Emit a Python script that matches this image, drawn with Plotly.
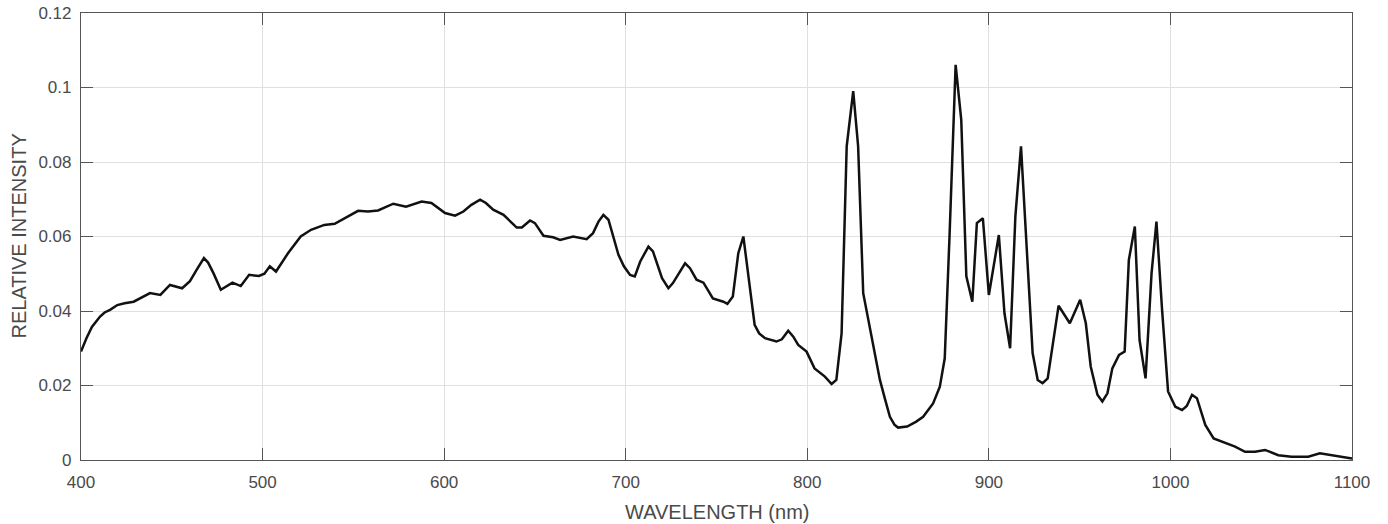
import plotly.graph_objects as go

# Emission spectrum, relative intensity vs wavelength (nm)
wavelength = [
    400, 403, 406, 410.5, 413, 416, 420, 424, 429, 432.7, 438, 443.7, 449, 455.7, 460,
    464, 467.7, 470, 473, 477, 483.4, 488, 492.6, 498, 501, 504, 507.4, 514, 521, 526.7,
    534, 539.7, 545, 552.6, 558, 563.6, 572, 579, 587.6, 593, 600.5, 606, 610.6, 615,
    619.8, 623, 627, 632.7, 640, 642.8, 647.3, 650, 654.7, 660, 663.9, 671, 678.5, 682,
    685, 687.7, 690.5, 693, 696, 699, 702.4, 705, 708, 712.5, 715, 720, 723.5, 726,
    732.7, 735.4, 739, 742.8, 748, 753.8, 756, 759, 762, 764.8, 767.5, 771, 773.5,
    776.7, 783, 786, 789.5, 792.3, 795, 799.6, 804, 809.7, 813.4, 816, 818.9, 821.7,
    825.3, 828, 830.8, 835.4, 840, 843, 845.5, 848, 850, 855, 860, 863.8, 869.3, 873,
    875.7, 878.4, 881.7, 884.8, 887.6, 890.9, 893.4, 896.7, 900, 905.5, 908.6, 911.7,
    914.6, 917.7, 924.1, 926.9, 929.6, 932.4, 938.4, 944.6, 950.3, 953.4, 956.1, 959.8,
    962.5, 965.3, 968, 971.7, 974.8, 977.1, 980.4, 983, 986.3, 989.6, 992.3, 995.4,
    998.7, 1002.7, 1006.4, 1009, 1011.9, 1014.6, 1019.2, 1023.8, 1030.2, 1035.6,
    1041.1, 1046.6, 1052.1, 1059.4, 1066.7, 1075.9, 1082.3, 1088.7, 1098.7, 1100,
]
intensity = [
    0.0291, 0.0327, 0.0357, 0.0385, 0.0396, 0.0403, 0.0416, 0.0421, 0.0425, 0.0434,
    0.0448, 0.0443, 0.0470, 0.0461, 0.0480, 0.0513, 0.0542, 0.0530, 0.0501, 0.0457,
    0.0476, 0.0467, 0.0497, 0.0494, 0.0500, 0.0520, 0.0506, 0.0555, 0.0600, 0.0618,
    0.0631, 0.0634, 0.0649, 0.0669, 0.0667, 0.0670, 0.0688, 0.0680, 0.0694, 0.0690,
    0.0663, 0.0656, 0.0667, 0.0685, 0.0699, 0.0690, 0.0672, 0.0658, 0.0624, 0.0624,
    0.0643, 0.0636, 0.0602, 0.0598, 0.0591, 0.0600, 0.0593, 0.0609, 0.0640, 0.0658,
    0.0645, 0.0600, 0.0551, 0.0520, 0.0497, 0.0493, 0.0533, 0.0573, 0.0560, 0.0488,
    0.0461, 0.0475, 0.0528, 0.0515, 0.0484, 0.0476, 0.0434, 0.0425, 0.0419, 0.0439,
    0.0555, 0.0600, 0.0501, 0.0363, 0.0340, 0.0327, 0.0318, 0.0324, 0.0347, 0.0331,
    0.0309, 0.0291, 0.0246, 0.0224, 0.0204, 0.0215, 0.0340, 0.0842, 0.0990, 0.0842,
    0.0448, 0.0331, 0.0215, 0.0160, 0.0116, 0.0095, 0.0087, 0.0090, 0.0103, 0.0116,
    0.0152, 0.0197, 0.0273, 0.0609, 0.1061, 0.0913, 0.0493, 0.0425, 0.0636, 0.0649,
    0.0443, 0.0604, 0.0394, 0.0300, 0.0654, 0.0842, 0.0287, 0.0215, 0.0206, 0.0219,
    0.0414, 0.0367, 0.0430, 0.0367, 0.0251, 0.0175, 0.0157, 0.0179, 0.0246, 0.0282,
    0.0291, 0.0537, 0.0627, 0.0322, 0.0219, 0.0501, 0.0640, 0.0403, 0.0184, 0.0143,
    0.0134, 0.0145, 0.0175, 0.0166, 0.0094, 0.0058, 0.0045, 0.0036, 0.0022, 0.0022,
    0.0027, 0.0013, 0.0009, 0.0009, 0.0018, 0.0013, 0.0004, 0.0004,
]

x_ticks = [400, 500, 600, 700, 800, 900, 1000, 1100]
y_ticks = [0, 0.02, 0.04, 0.06, 0.08, 0.1, 0.12]
y_tick_text = ["0", "0.02", "0.04", "0.06", "0.08", "0.1", "0.12"]

FONT = "Liberation Sans, Arial, sans-serif"
TEXT_COLOR = "#4a4a4a"

fig = go.Figure()
fig.add_trace(go.Scatter(
    x=wavelength, y=intensity, mode="lines",
    line=dict(color="#111111", width=2.5),
    showlegend=False,
))

axis_common = dict(
    showline=True, linecolor="#555555", linewidth=1.2, mirror="allticks",
    ticks="inside", ticklen=12, tickwidth=1, tickcolor="#555555",
    showgrid=True, gridcolor="#e0e0e0", gridwidth=1,
    zeroline=False, automargin=False,
    tickfont=dict(family=FONT, size=17, color=TEXT_COLOR),
)

fig.update_xaxes(range=[400, 1100], tickvals=x_ticks, ticklabelstandoff=6, **axis_common)
fig.update_yaxes(range=[0, 0.12], tickvals=y_ticks, ticktext=y_tick_text,
                 ticklabelstandoff=5, **axis_common)

# Axis titles
fig.add_annotation(text="WAVELENGTH (nm)", xref="paper", yref="paper", x=0.5, y=0,
                   yshift=-52, showarrow=False, xanchor="center", yanchor="middle",
                   font=dict(family=FONT, size=20, color=TEXT_COLOR))
fig.add_annotation(text="RELATIVE INTENSITY", xref="paper", yref="paper", x=0, y=0.5,
                   xshift=-63, showarrow=False, textangle=-90, xanchor="center",
                   yanchor="middle", font=dict(family=FONT, size=20, color=TEXT_COLOR))

fig.update_layout(
    width=1388, height=524,
    margin=dict(l=81, r=36, t=13, b=64),
    paper_bgcolor="white", plot_bgcolor="white",
)

fig.write_html("out.html")
